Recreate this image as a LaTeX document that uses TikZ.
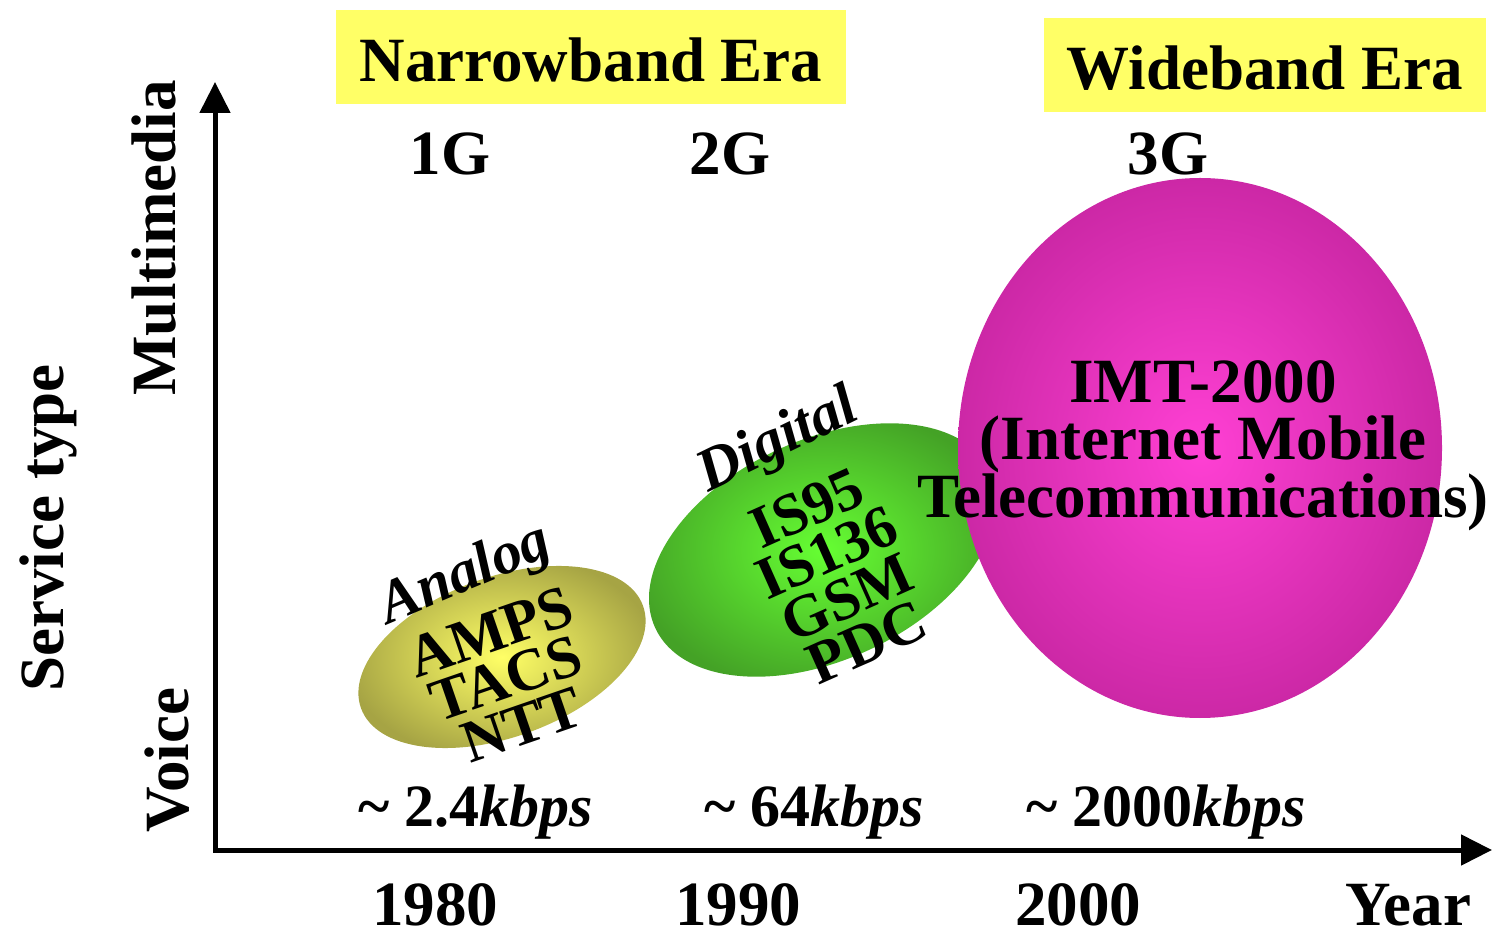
\documentclass[tikz,border=0pt]{standalone}
\usepackage{fontspec}
\setmainfont{Liberation Serif}
\usetikzlibrary{arrows.meta}
\definecolor{boxyellow}{HTML}{FFFF66}
\definecolor{olivein}{HTML}{FFFF66}
\definecolor{oliveout}{HTML}{A6A444}
\definecolor{greenin}{HTML}{66FF33}
\definecolor{greenout}{HTML}{44A226}
\definecolor{magin}{HTML}{FF40D4}
\definecolor{magout}{HTML}{CC28A6}
\tikzset{
  big/.style={font=\fontsize{63}{70}\selectfont\bfseries, inner sep=0pt},
  speed/.style={font=\fontsize{60}{66}\selectfont\bfseries, inner sep=0pt, anchor=base},
  inner/.style={font=\fontsize{60}{49}\selectfont\bfseries, inner sep=0pt, align=center},
  era/.style={fill=boxyellow, inner sep=0pt, minimum height=94pt},
  axis/.style={line width=5pt, {Triangle[length=31pt,width=30pt]}-{Triangle[length=31pt,width=30pt]}},
}
\begin{document}
\begin{tikzpicture}[x=1pt,y=1pt]
\useasboundingbox (0,0) rectangle (1499,930);
% era boxes
\node[era, minimum width=510pt] (nbox) at (591,873) {};
\node[big, anchor=base] (nlab) at (591,848) {Narrowband Era};
\node[era, minimum width=442pt] (wbox) at (1265,865) {};
\node[big, anchor=base] (wlab) at (1265,840) {Wideband Era};
% generations
\node[big, anchor=base] (g1) at (450,755) {1G};
\node[big, anchor=base] (g2) at (730,755) {2G};
\node[big, anchor=base] (g3) at (1168,755) {3G};
% axes
\coordinate (O) at (215,80);
\coordinate (Ytop) at (215,848);
\coordinate (Xend) at (1492,80);
\draw[axis] (Ytop) -- (O) -- (Xend);
% axis labels
\node[big, anchor=base, rotate=90] (mm) at (175,692) {Multimedia};
\node[big, anchor=base, rotate=90] (voice) at (188,170) {Voice};
\node[big, anchor=base, rotate=90] (stype) at (63,402) {Service type};
% years
\node[big, anchor=base] (y80) at (435,5) {1980};
\node[big, anchor=base] (y90) at (738,5) {1990};
\node[big, anchor=base] (y00) at (1078,5) {2000};
\node[big, anchor=base] (year) at (1408,5) {Year};
% speeds
\node[speed] (s1) at (476,104) {\char`\~{} 2.4\textit{kbps}};
\node[speed] (s2) at (814,104) {\char`\~{} 64\textit{kbps}};
\node[speed] (s3) at (1166,104) {\char`\~{} 2000\textit{kbps}};
% ellipses
\shade[inner color=olivein, outer color=oliveout, rotate around={20:(502,273)}]
  (502,273) ellipse [x radius=150, y radius=80];
\shade[inner color=greenin, outer color=greenout, rotate around={25:(823,380)}]
  (823,380) ellipse [x radius=185, y radius=110];
\shade[inner color=magin, outer color=magout]
  (1200,482) ellipse [x radius=242, y radius=270];
% texts in ellipses
\node[inner, rotate=23] (analog) at (466,354) {\itshape Analog};
\node[inner, rotate=19] (first) at (506,252) {AMPS\\TACS\\NTT};
\node[inner, rotate=26] (digital) at (779,488) {\itshape Digital};
\node[inner, rotate=24] (second) at (837,355) {IS95\\IS136\\GSM\\PDC};
\node[big, align=center, font=\fontsize{63}{57}\selectfont\bfseries] (third) at (1203,484)
  {IMT-2000\\(Internet Mobile\\Telecommunications)};
\end{tikzpicture}
\end{document}
